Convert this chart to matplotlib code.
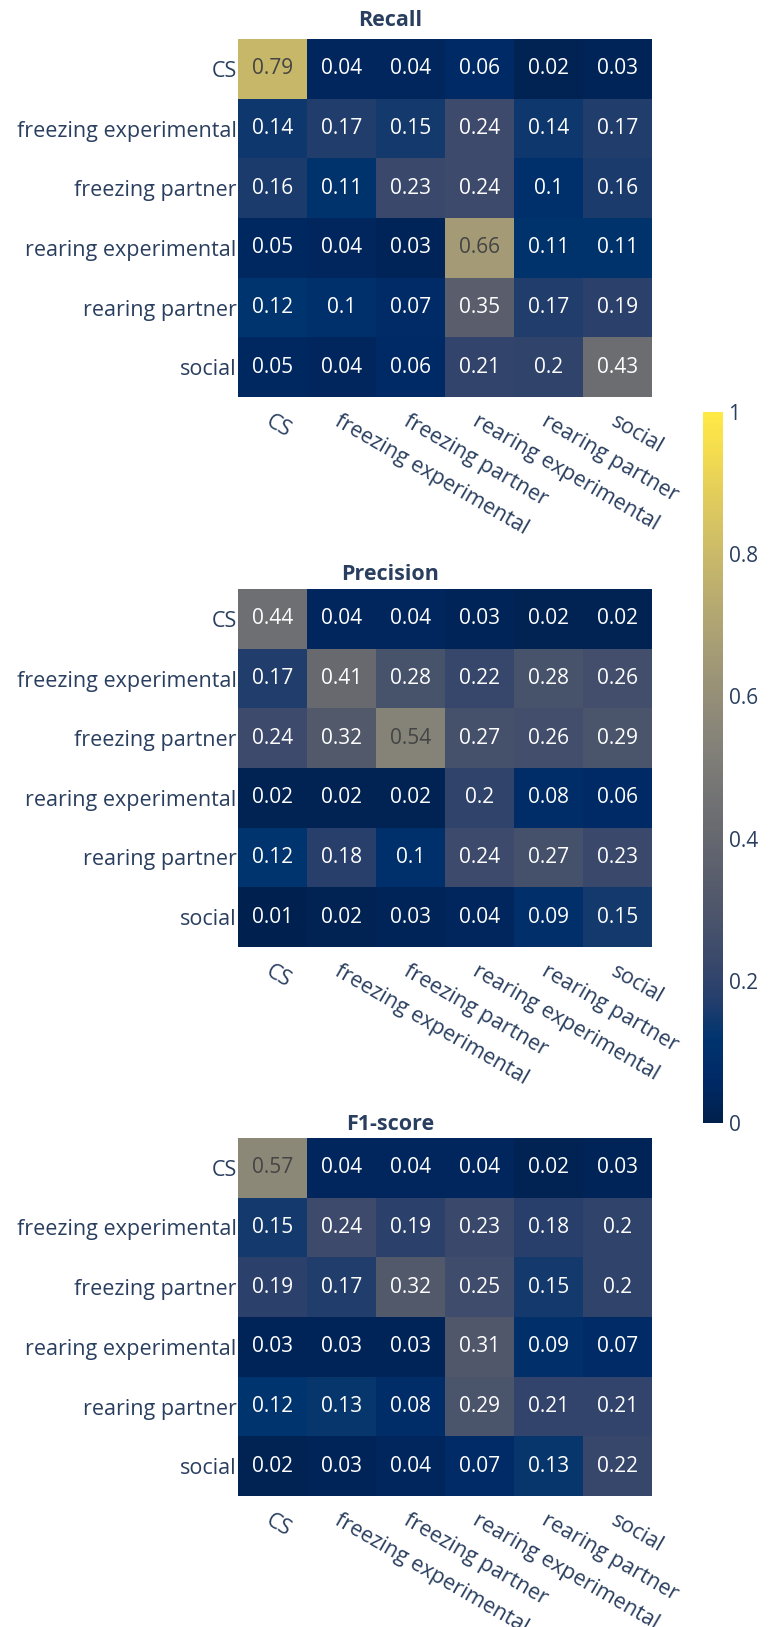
import numpy as np
import matplotlib.pyplot as plt
from matplotlib import rcParams
from matplotlib.colors import LinearSegmentedColormap

rcParams['font.family'] = ['Open Sans', 'DejaVu Sans']

classes = ["CS", "freezing experimental", "freezing partner",
           "rearing experimental", "rearing partner", "social"]

recall = [
    [0.79, 0.04, 0.04, 0.06, 0.02, 0.03],
    [0.14, 0.17, 0.15, 0.24, 0.14, 0.17],
    [0.16, 0.11, 0.23, 0.24, 0.1, 0.16],
    [0.05, 0.04, 0.03, 0.66, 0.11, 0.11],
    [0.12, 0.1, 0.07, 0.35, 0.17, 0.19],
    [0.05, 0.04, 0.06, 0.21, 0.2, 0.43],
]
precision = [
    [0.44, 0.04, 0.04, 0.03, 0.02, 0.02],
    [0.17, 0.41, 0.28, 0.22, 0.28, 0.26],
    [0.24, 0.32, 0.54, 0.27, 0.26, 0.29],
    [0.02, 0.02, 0.02, 0.2, 0.08, 0.06],
    [0.12, 0.18, 0.1, 0.24, 0.27, 0.23],
    [0.01, 0.02, 0.03, 0.04, 0.09, 0.15],
]
f1 = [
    [0.57, 0.04, 0.04, 0.04, 0.02, 0.03],
    [0.15, 0.24, 0.19, 0.23, 0.18, 0.2],
    [0.19, 0.17, 0.32, 0.25, 0.15, 0.2],
    [0.03, 0.03, 0.03, 0.31, 0.09, 0.07],
    [0.12, 0.13, 0.08, 0.29, 0.21, 0.21],
    [0.02, 0.03, 0.04, 0.07, 0.13, 0.22],
]
titles = ["Recall", "Precision", "F1-score"]

# plotly Cividis
cividis_rgb = [(0, 32, 76), (0, 42, 102), (0, 52, 110), (39, 63, 108),
               (60, 74, 107), (76, 85, 107), (91, 95, 109), (104, 106, 112),
               (117, 117, 117), (131, 129, 120), (146, 140, 120), (161, 152, 118),
               (176, 165, 114), (192, 177, 109), (209, 191, 102), (225, 204, 92),
               (243, 219, 79), (255, 233, 69)]
cmap = LinearSegmentedColormap.from_list(
    "plotly_cividis", [tuple(c / 255 for c in rgb) for rgb in cividis_rgb])

W, H = 769, 1627
fig = plt.figure(figsize=(W / 100, H / 100), dpi=100)

txt_col = '#2a3f5f'
tops = [39, 589, 1138]
title_y = [21, 574, 1124]
left, right = 238, 652
hh = 358

for data, title, top, ty in zip([recall, precision, f1], titles, tops, title_y):
    m = np.array(data)
    ax = fig.add_axes([left / W, 1 - (top + hh) / H, (right - left) / W, hh / H])
    im = ax.imshow(m, cmap=cmap, vmin=0, vmax=1, aspect='auto',
                   interpolation='nearest')
    for i in range(m.shape[0]):
        for j in range(m.shape[1]):
            v = m[i, j]
            ax.text(j, i, f"{v:g}", ha='center', va='center', fontsize=15,
                    color='#444444' if v >= 0.5 else 'white')
    ax.set_xticks(range(len(classes)))
    ax.set_yticks(range(len(classes)))
    ax.set_yticklabels(classes, fontsize=15.5, color=txt_col)
    ax.set_xticklabels(classes, fontsize=15.5, color=txt_col, rotation=-30,
                       ha='left', va='top', rotation_mode='anchor')
    ax.tick_params(length=0, pad=1)
    ax.tick_params(axis='x', pad=10)
    for s in ax.spines.values():
        s.set_visible(False)
    fig.text(390 / W, 1 - ty / H, title, ha='center', va='center',
             fontsize=15.5, fontweight='bold', color=txt_col)

cax = fig.add_axes([703 / W, 1 - 1123 / H, 20 / W, 711 / H])
cb = fig.colorbar(im, cax=cax, ticks=[0, 0.2, 0.4, 0.6, 0.8, 1])
cb.ax.set_yticklabels(["0", "0.2", "0.4", "0.6", "0.8", "1"])
cb.ax.tick_params(length=0, labelsize=15, labelcolor=txt_col, pad=4)
cb.outline.set_visible(False)

plt.savefig("out.png", dpi=100)
